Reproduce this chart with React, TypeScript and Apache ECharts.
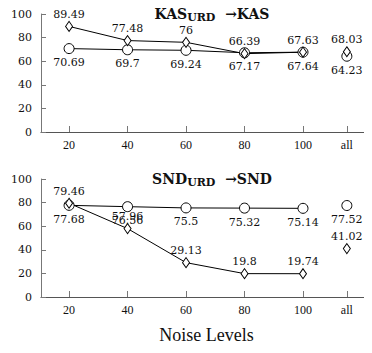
import React, { useEffect, useRef } from "react";
import * as echarts from "echarts";

const noiseLevels = [20, 40, 60, 80, 100];
const tickLabels = ["20", "40", "60", "80", "100", "all"];
const allPos = 115;

const kasDiamond = [89.49, 77.48, 76, 66.39, 67.63];
const kasCircle = [70.69, 69.7, 69.24, 67.17, 67.64];
const kasAllDiamond = 68.03;
const kasAllCircle = 64.23;

const sndDiamond = [79.46, 57.96, 29.13, 19.8, 19.74];
const sndCircle = [77.68, 76.56, 75.5, 75.32, 75.14];
const sndAllDiamond = 41.02;
const sndAllCircle = 77.52;

const SERIF = "'DejaVu Serif', serif";
const TIMES = "'Liberation Serif', serif";
const INK = "#111";

export default function App() {
  const ref = useRef<HTMLDivElement>(null);
  useEffect(() => {
    if (!ref.current) return;
    const chart = echarts.init(ref.current, undefined, { renderer: "svg" });
    const tickVals = [...noiseLevels, allPos];
    const fmt = (v: number) => {
      const i = tickVals.indexOf(v);
      return i >= 0 ? tickLabels[i] : "";
    };
    const xAxis = (gi: number, name?: string) => ({
      type: "value",
      gridIndex: gi,
      min: 10.4,
      max: 123.6,
      splitLine: { show: false },
      axisLine: { show: true, lineStyle: { color: "#555", width: 1.2 } },
      axisTick: {
        show: true,
        inside: true,
        length: 6,
        customValues: tickVals,
        lineStyle: { color: "#777" },
      },
      axisLabel: {
        customValues: tickVals,
        formatter: fmt,
        fontFamily: TIMES,
        fontSize: 12,
        color: INK,
        margin: 7,
      },
      name: name,
      nameLocation: "middle",
      nameGap: 29,
      nameTextStyle: { fontFamily: TIMES, fontSize: 18, color: INK },
    });
    const yAxis = (gi: number) => ({
      type: "value",
      gridIndex: gi,
      min: 0,
      max: 100,
      interval: 20,
      splitLine: { show: false },
      axisLine: { show: true, lineStyle: { color: "#777", width: 1 } },
      axisTick: { show: true, inside: true, length: 5, lineStyle: { color: "#777" } },
      axisLabel: { fontFamily: SERIF, fontSize: 11, color: INK, margin: 9 },
    });
    const label = (pos: string) => ({
      show: true,
      position: pos,
      distance: pos === "top" ? 1 : 3,
      fontFamily: SERIF,
      fontSize: 11,
      color: INK,
    });
    const diamondStyle = {
      symbol: "diamond",
      symbolSize: [7, 10],
      itemStyle: { color: "#fff", borderColor: "#000", borderWidth: 1, opacity: 1 },
    };
    const circleStyle = {
      symbol: "circle",
      symbolSize: 10,
      itemStyle: { color: "#fff", borderColor: "#000", borderWidth: 1, opacity: 1 },
    };
    const lineSeries = (gi: number, vals: number[], sty: any, pos: string) => ({
      type: "line",
      xAxisIndex: gi,
      yAxisIndex: gi,
      data: noiseLevels.map((x, i) => [x, vals[i]]),
      ...sty,
      showSymbol: true,
      lineStyle: { color: "#000", width: 1 },
      label: label(pos),
    });
    const allSeries = (gi: number, v: number, sty: any, pos: string) => ({
      type: "scatter",
      xAxisIndex: gi,
      yAxisIndex: gi,
      data: [[allPos, v]],
      ...sty,
      label: label(pos),
    });
    const titleRich = {
      b: { fontFamily: SERIF, fontWeight: "bold", fontSize: 14, color: INK, lineHeight: 18, verticalAlign: "middle" },
      s: { fontFamily: SERIF, fontWeight: "bold", fontSize: 11, color: INK, lineHeight: 10, verticalAlign: "bottom" },
    };
    chart.setOption({
      animation: false,
      title: [
        {
          text: "{b|KAS}{s|URD}{b|  →KAS}",
          left: 207,
          top: 0,
          textAlign: "center",
          textStyle: { rich: titleRich },
        },
        {
          text: "{b|SND}{s|URD}{b|  →SND}",
          left: 207,
          top: 165,
          textAlign: "center",
          textStyle: { rich: titleRich },
        },
      ],
      grid: [
        { left: 41, right: 0, top: 14, height: 118 },
        { left: 41, right: 0, top: 179, height: 118 },
      ],
      xAxis: [xAxis(0), xAxis(1, "Noise Levels")],
      yAxis: [yAxis(0), yAxis(1)],
      series: [
        lineSeries(0, kasCircle, circleStyle, "bottom"),
        lineSeries(0, kasDiamond, diamondStyle, "top"),
        allSeries(0, kasAllCircle, circleStyle, "bottom"),
        allSeries(0, kasAllDiamond, diamondStyle, "top"),
        lineSeries(1, sndCircle, circleStyle, "bottom"),
        lineSeries(1, sndDiamond, diamondStyle, "top"),
        allSeries(1, sndAllCircle, circleStyle, "bottom"),
        allSeries(1, sndAllDiamond, diamondStyle, "top"),
      ],
    });
    return () => chart.dispose();
  }, []);
  return <div ref={ref} style={{ width: 372, height: 353, margin: -8 }} />;
}
